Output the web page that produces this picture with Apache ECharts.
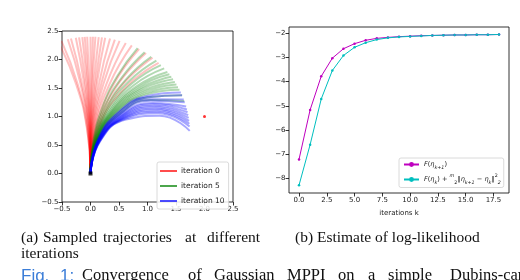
<!DOCTYPE html>
<html>
<head>
<meta charset="utf-8">
<script src="https://cdn.jsdelivr.net/npm/echarts@6/dist/echarts.min.js"></script>
<style>
  html, body { margin: 0; padding: 0; background: #fff; }
  #chart { width: 520px; height: 280px; }
</style>
</head>
<body>
<div id="chart"></div>
<script>
// (a) sampled trajectories
const iter0Paths = [
  [[0, 0], [-0.064, 0.797], [-0.254, 1.573], [-0.565, 2.309]],
  [[0, 0], [-0.058, 0.797], [-0.229, 1.578], [-0.51, 2.326]],
  [[0, 0], [-0.045, 0.798], [-0.178, 1.587], [-0.399, 2.355]],
  [[0, 0], [-0.038, 0.799], [-0.153, 1.59], [-0.343, 2.367]],
  [[0, 0], [-0.029, 0.799], [-0.115, 1.594], [-0.258, 2.381]],
  [[0, 0], [-0.022, 0.8], [-0.09, 1.596], [-0.201, 2.389]],
  [[0, 0], [-0.016, 0.8], [-0.064, 1.598], [-0.144, 2.394]],
  [[0, 0], [-0.011, 0.8], [-0.045, 1.6], [-0.101, 2.397]],
  [[0, 0], [-0.006, 0.8], [-0.026, 1.6], [-0.058, 2.4]],
  [[0, 0], [0, 0.8], [0, 1.6], [0, 2.4]],
  [[0, 0], [0.005, 0.8], [0.019, 1.6], [0.043, 2.4]],
  [[0, 0], [0.01, 0.8], [0.038, 1.6], [0.086, 2.399]],
  [[0, 0], [0.016, 0.8], [0.064, 1.598], [0.144, 2.394]],
  [[0, 0], [0.022, 0.8], [0.09, 1.596], [0.201, 2.389]],
  [[0, 0], [0.029, 0.799], [0.115, 1.594], [0.258, 2.381]],
  [[0, 0], [0.038, 0.799], [0.153, 1.59], [0.343, 2.367]],
  [[0, 0], [0.048, 0.798], [0.191, 1.585], [0.427, 2.348]],
  [[0, 0], [0.058, 0.797], [0.229, 1.578], [0.51, 2.326]],
  [[0, 0], [0.07, 0.796], [0.279, 1.567], [0.619, 2.29]],
  [[0, 0], [0.083, 0.794], [0.328, 1.554], [0.725, 2.247]],
  [[0, 0], [0.099, 0.792], [0.389, 1.535], [0.852, 2.184]],
  [[0, 0], [0.114, 0.789], [0.448, 1.513], [0.974, 2.112]],
  [[0, 0], [0.13, 0.786], [0.506, 1.488], [1.089, 2.031]],
  [[0, 0], [0.146, 0.782], [0.563, 1.459], [1.195, 1.941]]
];
const iter5Paths = [
  [[0, 0], [0.054, 0.597], [0.214, 1.174], [0.474, 1.714], [0.827, 2.198]],
  [[0, 0], [0.063, 0.596], [0.248, 1.165], [0.548, 1.683], [0.95, 2.128]],
  [[0, 0], [0.072, 0.594], [0.283, 1.154], [0.62, 1.648], [1.066, 2.048]],
  [[0, 0], [0.079, 0.593], [0.309, 1.145], [0.676, 1.618], [1.156, 1.979]],
  [[0, 0], [0.086, 0.592], [0.336, 1.135], [0.73, 1.584], [1.234, 1.902]],
  [[0, 0], [0.091, 0.591], [0.356, 1.127], [0.77, 1.558], [1.293, 1.844]],
  [[0, 0], [0.096, 0.59], [0.375, 1.118], [0.808, 1.53], [1.349, 1.782]],
  [[0, 0], [0.1, 0.589], [0.388, 1.112], [0.833, 1.51], [1.384, 1.74]],
  [[0, 0], [0.103, 0.588], [0.401, 1.105], [0.859, 1.491], [1.418, 1.697]],
  [[0, 0], [0.107, 0.587], [0.414, 1.099], [0.881, 1.47], [1.449, 1.652]],
  [[0, 0], [0.11, 0.586], [0.426, 1.092], [0.904, 1.449], [1.48, 1.607]],
  [[0, 0], [0.114, 0.585], [0.439, 1.086], [0.926, 1.427], [1.508, 1.562]],
  [[0, 0], [0.117, 0.584], [0.451, 1.078], [0.949, 1.405], [1.535, 1.515]],
  [[0, 0], [0.121, 0.584], [0.463, 1.071], [0.97, 1.383], [1.561, 1.468]],
  [[0, 0], [0.128, 0.581], [0.487, 1.056], [1.012, 1.337], [1.607, 1.372]],
  [[0, 0], [0.135, 0.579], [0.51, 1.04], [1.051, 1.289], [1.645, 1.274]]
];
const iter10Paths = [
  [[0, 0], [0.124, 0.583], [0.475, 1.064], [0.992, 1.36], [1.585, 1.42]],
  [[0, 0], [0.128, 0.581], [0.487, 1.056], [1.012, 1.337], [1.607, 1.372]],
  [[0, 0], [0.133, 0.58], [0.505, 1.044], [1.041, 1.301], [1.636, 1.298]],
  [[0, 0], [0.136, 0.579], [0.516, 1.036], [1.06, 1.277], [1.654, 1.249]],
  [[0, 0], [0.141, 0.577], [0.533, 1.024], [1.087, 1.239], [1.678, 1.175]],
  [[0, 0], [0.145, 0.576], [0.544, 1.016], [1.104, 1.214], [1.692, 1.124]],
  [[0, 0], [0.148, 0.575], [0.555, 1.007], [1.121, 1.188], [1.703, 1.074]],
  [[0, 0], [0.151, 0.574], [0.567, 0.999], [1.136, 1.162], [1.714, 1.024]],
  [[0, 0], [0.155, 0.573], [0.578, 0.99], [1.151, 1.136], [1.722, 0.974]],
  [[0, 0], [0.158, 0.571], [0.587, 0.98], [1.166, 1.11], [1.729, 0.924]],
  [[0, 0], [0.162, 0.57], [0.597, 0.97], [1.18, 1.083], [1.734, 0.873]],
  [[0, 0], [0.165, 0.569], [0.608, 0.961], [1.193, 1.056], [1.738, 0.823]],
  [[0, 0], [0.17, 0.567], [0.622, 0.946], [1.211, 1.015], [1.741, 0.748]]
];
const startPoint = [[0, 0]];
const goalPoint = [[2.0, 1.0]];

// (b) log-likelihood estimate
const iterations = [0, 1, 2, 3, 4, 5, 6, 7, 8, 9, 10, 11, 12, 13, 14, 15, 16, 17, 18];
const fNext = [-7.22, -5.17, -3.78, -3.03, -2.64, -2.43, -2.29, -2.21, -2.17, -2.14,
  -2.12, -2.10, -2.09, -2.08, -2.07, -2.07, -2.06, -2.06, -2.05];
const fBound = [-8.29, -6.61, -4.72, -3.54, -2.92, -2.58, -2.39, -2.26, -2.19, -2.15,
  -2.13, -2.11, -2.09, -2.08, -2.07, -2.07, -2.06, -2.06, -2.05];
const kTicks = [0, 2.5, 5, 7.5, 10, 12.5, 15, 17.5];
const llTicks = [-8, -7, -6, -5, -4, -3, -2];

const tickFont = 'DejaVu Sans';
const serif = '"Liberation Serif"';
const minus = v => String(v).replace('-', '\u2212');

function pathSeries(paths, name, color, opacity) {
  return paths.map(p => ({
    name: name,
    type: 'line',
    xAxisIndex: 0,
    yAxisIndex: 0,
    data: p,
    smooth: true,
    symbol: 'none',
    silent: true,
    lineStyle: { color: color, width: 2, opacity: opacity },
    itemStyle: { color: color },
    z: 2
  }));
}

function word(text, x, y, size, family, fill) {
  return {
    type: 'text',
    style: { text: text, x: x, y: y, font: size + 'px ' + family, fill: fill || '#111', verticalAlign: 'middle' }
  };
}

const chart = echarts.init(document.getElementById('chart'), null, { renderer: 'canvas' });

const axisBase = {
  type: 'value',
  splitLine: { show: false },
  axisLine: { show: false, onZero: false },
  axisTick: { show: true, inside: false, length: 3.5, lineStyle: { color: '#000', width: 0.8 } },
  axisLabel: { fontFamily: tickFont, fontSize: 7, color: '#222', margin: 3.5 }
};

const richBase = { fontFamily: tickFont, lineHeight: 12, color: '#222' };

chart.setOption({
  animation: false,
  grid: [
    { left: 62, top: 31, width: 171, height: 171, show: true, borderColor: '#000', borderWidth: 0.8, backgroundColor: '#fff' },
    { left: 289, top: 27, width: 220, height: 166, show: true, borderColor: '#000', borderWidth: 0.8, backgroundColor: '#fff' }
  ],
  xAxis: [
    Object.assign({}, axisBase, {
      gridIndex: 0, min: -0.5, max: 2.5, interval: 0.5,
      axisLabel: Object.assign({}, axisBase.axisLabel, { formatter: v => minus(v.toFixed(1)) })
    }),
    Object.assign({}, axisBase, {
      gridIndex: 1, min: -0.9, max: 18.9,
      axisTick: Object.assign({}, axisBase.axisTick, { customValues: kTicks }),
      axisLabel: Object.assign({}, axisBase.axisLabel, { customValues: kTicks, formatter: v => v.toFixed(1) }),
      name: 'iterations k', nameLocation: 'middle', nameGap: 17,
      nameTextStyle: { fontFamily: tickFont, fontSize: 7, color: '#222' }
    })
  ],
  yAxis: [
    Object.assign({}, axisBase, {
      gridIndex: 0, min: -0.5, max: 2.5, interval: 0.5,
      axisLabel: Object.assign({}, axisBase.axisLabel, { formatter: v => minus(v.toFixed(1)) })
    }),
    Object.assign({}, axisBase, {
      gridIndex: 1, min: -8.61, max: -1.74,
      axisTick: Object.assign({}, axisBase.axisTick, { customValues: llTicks }),
      axisLabel: Object.assign({}, axisBase.axisLabel, { customValues: llTicks, formatter: v => minus(v) })
    })
  ],
  legend: [
    {
      data: ['iteration 0', 'iteration 5', 'iteration 10'],
      orient: 'vertical',
      left: 157, top: 162,
      itemWidth: 17, itemHeight: 2, itemGap: 7,
      padding: [5, 4, 4, 3],
      backgroundColor: 'rgba(255,255,255,0.85)',
      borderColor: '#d0d0d0', borderWidth: 0.8, borderRadius: 2,
      icon: 'rect',
      itemStyle: { opacity: 0.7 },
      textStyle: { fontFamily: tickFont, fontSize: 7.5, color: '#222', padding: [0, 0, 0, -1] }
    },
    {
      data: ['fNext', 'fBound'],
      orient: 'vertical',
      left: 399, top: 158,
      itemWidth: 15, itemHeight: 6, itemGap: 3,
      padding: [3, 3, 2, 4],
      backgroundColor: 'rgba(255,255,255,0.85)',
      borderColor: '#d0d0d0', borderWidth: 0.8, borderRadius: 2,
      formatter: name => name === 'fNext'
        ? '{it|F}{n|(}{it|η}{sb|k+1}{n|)}'
        : '{it|F}{n|(}{it|η}{sb|k}{n|) + }{fr|m}{fd|2}{n|‖}{it|η}{sb|k+1}{n| − }{it|η}{sb|k}{n|‖}{sp|2}{sb|2}',
      textStyle: {
        fontFamily: tickFont, fontSize: 6.6, color: '#222',
        rich: {
          n: Object.assign({ fontSize: 6.6 }, richBase),
          it: Object.assign({ fontSize: 6.6, fontStyle: 'italic' }, richBase),
          sb: Object.assign({ fontSize: 4.8, fontStyle: 'italic', verticalAlign: 'bottom' }, richBase),
          sp: Object.assign({ fontSize: 4.8, verticalAlign: 'top' }, richBase),
          fr: Object.assign({ fontSize: 4.8, fontStyle: 'italic', verticalAlign: 'top' }, richBase),
          fd: Object.assign({ fontSize: 4.8, verticalAlign: 'bottom' }, richBase)
        }
      }
    }
  ],
  graphic: [
    word('(a)', 21, 238, 15.5, serif),
    word('Sampled', 43, 238, 15.5, serif),
    word('trajectories', 103, 238, 15.5, serif),
    word('at', 185, 238, 15.5, serif),
    word('different', 207, 238, 15.5, serif),
    word('iterations', 21, 254, 15.5, serif),
    word('(b) Estimate of log-likelihood', 295, 238, 15.5, serif),
    word('Fig.', 21, 276, 17, '"Liberation Sans"', '#3b7dd8'),
    word('1:', 60, 276, 17, '"Liberation Sans"', '#3b7dd8'),
    word('Convergence', 82, 276, 16.5, serif),
    word('of', 188, 276, 16.5, serif),
    word('Gaussian', 214, 276, 16.5, serif),
    word('MPPI', 287, 276, 16.5, serif),
    word('on', 338, 276, 16.5, serif),
    word('a', 368, 276, 16.5, serif),
    word('simple', 388, 276, 16.5, serif),
    word('Dubins-car', 450, 276, 16.5, serif)
  ],
  series: [].concat(
    pathSeries(iter0Paths, 'iteration 0', '#ff0000', 0.24),
    pathSeries(iter5Paths, 'iteration 5', '#008000', 0.3),
    pathSeries(iter10Paths, 'iteration 10', '#0000ff', 0.34),
    [
      {
        type: 'scatter', xAxisIndex: 0, yAxisIndex: 0, data: startPoint,
        symbol: 'rect', symbolSize: 4, itemStyle: { color: '#000' }, z: 5, silent: true
      },
      {
        type: 'scatter', xAxisIndex: 0, yAxisIndex: 0, data: goalPoint,
        symbol: 'circle', symbolSize: 3, itemStyle: { color: '#ff0000' }, z: 5, silent: true
      },
      {
        name: 'fNext', type: 'line', xAxisIndex: 1, yAxisIndex: 1,
        data: iterations.map((k, i) => [k, fNext[i]]),
        symbol: 'circle', symbolSize: 2.5, showSymbol: true,
        lineStyle: { color: '#bf00bf', width: 1 }, itemStyle: { color: '#bf00bf' }, z: 3
      },
      {
        name: 'fBound', type: 'line', xAxisIndex: 1, yAxisIndex: 1,
        data: iterations.map((k, i) => [k, fBound[i]]),
        symbol: 'circle', symbolSize: 2.5, showSymbol: true,
        lineStyle: { color: '#00bfbf', width: 1 }, itemStyle: { color: '#00bfbf' }, z: 3
      }
    ]
  )
});
</script>
</body>
</html>
